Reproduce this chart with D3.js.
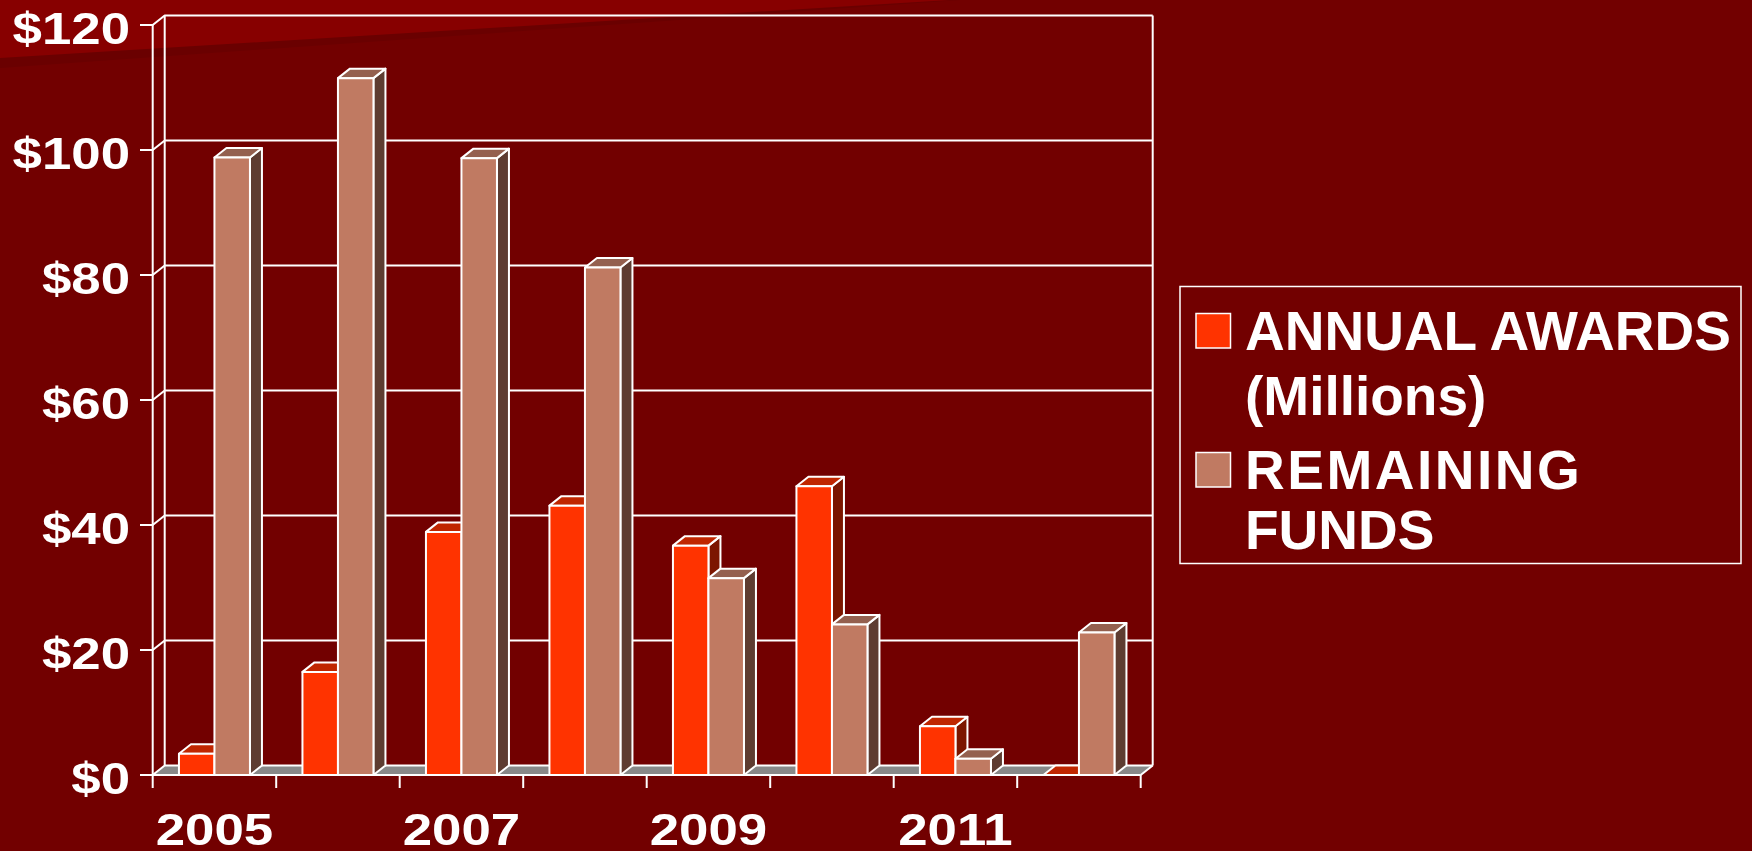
<!DOCTYPE html>
<html>
<head>
<meta charset="utf-8">
<script src="https://cdn.jsdelivr.net/npm/d3@7"></script>
<style>
  html, body { margin: 0; padding: 0; background: #720000; overflow: hidden; }
  text { font-family: "Liberation Sans", Arial, sans-serif; font-weight: bold; fill: #fff; }
</style>
</head>
<body>
<div id="chart"></div>
<script>
// ---- data ----
var years = ["2005", "2006", "2007", "2008", "2009", "2010", "2011", "2012"];
var annualAwards = [3.4, 16.5, 38.9, 43.1, 36.7, 46.2, 7.8, 0];
var remainingFunds = [98.8, 111.5, 98.7, 81.2, 31.5, 24.1, 2.6, 22.8];
var yTicks = [0, 20, 40, 60, 80, 100, 120];
var xLabels = ["2005", "2007", "2009", "2011"];
var legendLines = [
  ["ANNUAL AWARDS", "(Millions)"],
  ["REMAINING", "FUNDS"]
];

var W = 1752, H = 851;
var depth = { dx: 12, dy: -9.5 }; // oblique 3d offset

var seriesNames = ["awards", "remaining"];
var colors = {
  awards:    { front: "#ff3300", top: "#c02600", side: "#7c1600" },
  remaining: { front: "#c07a62", top: "#94604f", side: "#5e3c31" }
};

var svg = d3.select("#chart").append("svg")
  .attr("width", W).attr("height", H);

// background + the lighter swoosh at top left
svg.append("rect").attr("width", W).attr("height", H).attr("fill", "#720000");
svg.append("polygon").attr("points", "0,0 960,0 0,68").attr("fill", "#6a0000");
svg.append("polygon").attr("points", "0,0 950,0 0,58").attr("fill", "#870000");

// scales
var y = d3.scaleLinear().domain([0, 120]).range([775, 25]);
var x0 = d3.scaleBand().domain(years).range([152.7, 1140.7]).padding(0);
var groupW = 71;
var x1 = d3.scaleBand().domain(seriesNames).range([0, groupW]).padding(0);
var groupOff = (x0.bandwidth() - groupW) / 2;

var xLeft = x0.range()[0], xRight = x0.range()[1];
var base = y(0);

var g = svg.append("g").attr("stroke-linejoin", "round");

// floor
g.append("polygon")
  .attr("points", [
    [xLeft, base], [xRight, base],
    [xRight + depth.dx, base + depth.dy], [xLeft + depth.dx, base + depth.dy]
  ].map(p => p.join(",")).join(" "))
  .attr("fill", "#888888");

// back wall gridlines + left wall diagonals + y ticks
yTicks.forEach(function(v) {
  var yy = y(v);
  g.append("path")
    .attr("d", "M140," + yy + "L" + xLeft + "," + yy +
      "L" + (xLeft + depth.dx) + "," + (yy + depth.dy) +
      "L" + (xRight + depth.dx) + "," + (yy + depth.dy))
    .attr("fill", "none").attr("stroke", "#fff").attr("stroke-width", 2);
});
// walls verticals
g.append("line")
  .attr("x1", xLeft).attr("x2", xLeft).attr("y1", y(120)).attr("y2", base)
  .attr("stroke", "#fff").attr("stroke-width", 2);
g.append("line")
  .attr("x1", xLeft + depth.dx).attr("x2", xLeft + depth.dx)
  .attr("y1", y(120) + depth.dy).attr("y2", base + depth.dy)
  .attr("stroke", "#fff").attr("stroke-width", 2);
g.append("line")
  .attr("x1", xRight + depth.dx).attr("x2", xRight + depth.dx)
  .attr("y1", y(120) + depth.dy).attr("y2", base + depth.dy)
  .attr("stroke", "#fff").attr("stroke-width", 2);
// right floor edge
g.append("line")
  .attr("x1", xRight).attr("y1", base)
  .attr("x2", xRight + depth.dx).attr("y2", base + depth.dy)
  .attr("stroke", "#fff").attr("stroke-width", 2);
// front baseline
g.append("line")
  .attr("x1", xLeft).attr("x2", xRight).attr("y1", base).attr("y2", base)
  .attr("stroke", "#fff").attr("stroke-width", 2);

// x ticks at category boundaries
var bounds = years.map(d => x0(d)).concat([xRight]);
g.selectAll(".xtick").data(bounds).enter().append("line")
  .attr("x1", d => d).attr("x2", d => d)
  .attr("y1", base).attr("y2", base + 13)
  .attr("stroke", "#fff").attr("stroke-width", 2);

// bars
var rows = years.map(function(yr, i) {
  return { year: yr, awards: annualAwards[i], remaining: remainingFunds[i] };
});

function poly(pts) { return pts.map(p => p.join(",")).join(" "); }

rows.forEach(function(r) {
  seriesNames.forEach(function(s) {
    var x = x0(r.year) + groupOff + x1(s);
    var w = x1.bandwidth();
    var yt = y(r[s]);
    var c = colors[s];
    var bar = g.append("g").attr("stroke", "#fff").attr("stroke-width", 2);
    bar.append("polygon")
      .attr("points", poly([[x + w, yt], [x + w + depth.dx, yt + depth.dy],
        [x + w + depth.dx, base + depth.dy], [x + w, base]]))
      .attr("fill", c.side);
    bar.append("polygon")
      .attr("points", poly([[x, yt], [x + depth.dx, yt + depth.dy],
        [x + w + depth.dx, yt + depth.dy], [x + w, yt]]))
      .attr("fill", c.top);
    bar.append("rect")
      .attr("x", x).attr("y", yt).attr("width", w).attr("height", base - yt)
      .attr("fill", c.front);
  });
});

// y labels
svg.selectAll(".ylab").data(yTicks).enter().append("text")
  .attr("transform", d => "translate(130," + (y(d) + 19) + ") scale(1.2,1)")
  .attr("text-anchor", "end")
  .attr("font-size", 44)
  .text(d => "$" + d);

// x labels
svg.selectAll(".xlab").data(xLabels).enter().append("text")
  .attr("transform", d => "translate(" + (x0(d) + x0.bandwidth() / 2) + ",845) scale(1.2,1)")
  .attr("text-anchor", "middle")
  .attr("font-size", 44)
  .text(d => d);

// legend
var lg = svg.append("g");
lg.append("rect")
  .attr("x", 1180).attr("y", 286.5).attr("width", 561).attr("height", 277)
  .attr("fill", "none").attr("stroke", "#fff").attr("stroke-width", 1.5);

var lineBase = [[350, 415], [488.5, 549]];
var swatchY = [313.5, 452.5];
seriesNames.forEach(function(s, i) {
  lg.append("rect")
    .attr("x", 1196).attr("y", swatchY[i]).attr("width", 34.5).attr("height", 34.5)
    .attr("fill", colors[s].front).attr("stroke", "#fff").attr("stroke-width", 1.5);
  legendLines[i].forEach(function(t, j) {
    lg.append("text")
      .attr("x", 1245).attr("y", lineBase[i][j])
      .attr("font-size", 55)
      .attr("letter-spacing", t === "REMAINING" ? 2.5 : 0)
      .text(t);
  });
});
</script>
</body>
</html>
